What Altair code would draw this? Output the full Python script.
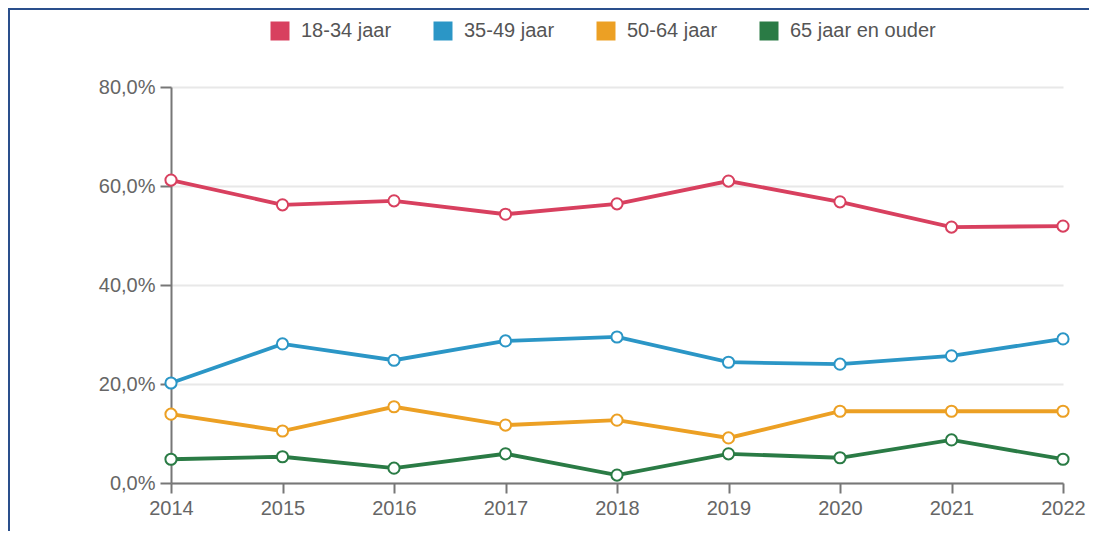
import altair as alt
import pandas as pd

years = [2014, 2015, 2016, 2017, 2018, 2019, 2020, 2021, 2022]
series = ["18-34 jaar", "35-49 jaar", "50-64 jaar", "65 jaar en ouder"]
colors = ["#d8405f", "#2b96c6", "#eca024", "#2a7b45"]

v_18_34 = [61.2, 56.2, 57.0, 54.3, 56.4, 61.0, 56.8, 51.7, 51.9]
v_35_49 = [20.2, 28.1, 24.8, 28.7, 29.5, 24.4, 24.0, 25.7, 29.1]
v_50_64 = [13.9, 10.5, 15.4, 11.7, 12.7, 9.1, 14.5, 14.5, 14.5]
v_65 = [4.8, 5.3, 3.0, 5.9, 1.6, 5.9, 5.1, 8.7, 4.8]

y_ticks = [0, 20, 40, 60, 80]

rows = []
for name, vals in zip(series, [v_18_34, v_35_49, v_50_64, v_65]):
    for yr, v in zip(years, vals):
        rows.append({"jaar": yr, "groep": name, "waarde": v})
df = pd.DataFrame(rows)

FONT = "Liberation Sans"
W, H = 892, 396
PAD_R = 26
PAD_B = 48

x_enc = alt.X(
    "jaar:Q",
    scale=alt.Scale(domain=[years[0], years[-1]], nice=False, zero=False),
    axis=alt.Axis(
        values=years, format="d", title=None, grid=False,
        domainColor="#777", domainWidth=2, tickColor="#777", tickWidth=2,
        tickSize=10, labelFontSize=20, labelColor="#666", labelFont=FONT,
        labelPadding=5, labelFlush=False,
    ),
)
y_enc = alt.Y(
    "waarde:Q",
    scale=alt.Scale(domain=[0, 80], nice=False),
    axis=alt.Axis(
        values=y_ticks, title=None,
        labelExpr="replace(format(datum.value, '.1f'), '.', ',') + '%'",
        grid=True, gridColor="#e8e8e8", gridWidth=2,
        domainColor="#777", domainWidth=2, tickColor="#777", tickWidth=2,
        tickSize=11, labelFontSize=20, labelColor="#666", labelFont=FONT,
        labelPadding=5,
    ),
)
cscale = alt.Scale(domain=series, range=colors)

lines = alt.Chart(df).mark_line(strokeWidth=3.8).encode(
    x=x_enc, y=y_enc,
    color=alt.Color("groep:N", scale=cscale, legend=None),
)
points = alt.Chart(df).mark_point(
    filled=False, fill="white", fillOpacity=1, size=125, strokeWidth=2, opacity=1
).encode(
    x="jaar:Q", y="waarde:Q",
    stroke=alt.Stroke("groep:N", scale=cscale, legend=None),
)
legend_layer = alt.Chart(df).transform_filter(alt.datum.waarde < -1000).mark_point(
    shape="square", filled=True, opacity=1
).encode(
    x="jaar:Q", y="waarde:Q",
    color=alt.Color(
        "groep:N", scale=cscale,
        legend=alt.Legend(
            title=None, orient="none", legendX=99, legendY=-66,
            direction="horizontal", symbolType="square", symbolSize=361,
            symbolStrokeWidth=0, labelFontSize=20, labelColor="#555",
            labelFont=FONT, labelOffset=11, columnPadding=41,
        ),
    ),
)

frame_left = alt.Chart(df).mark_rule(color="#2a4f8c", strokeWidth=2).encode(
    x=alt.value(-162), y=alt.value(-78), y2=alt.value(H + PAD_B)
)
frame_top = alt.Chart(df).mark_rule(color="#2a4f8c", strokeWidth=2).encode(
    x=alt.value(-163), x2=alt.value(W + PAD_R), y=alt.value(-78)
)

chart = alt.layer(legend_layer, frame_left, frame_top, lines, points).properties(
    width=W, height=H,
    autosize=alt.AutoSizeParams(type="none"),
    padding={"left": 163, "top": 79, "right": PAD_R, "bottom": PAD_B},
).configure_view(stroke=None)

chart.save("out.html", embed_options={"renderer": "svg", "actions": False})
